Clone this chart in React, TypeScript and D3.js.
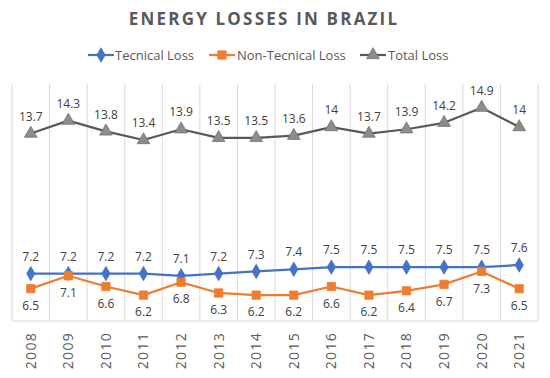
import * as d3 from 'd3';

const years = ['2008', '2009', '2010', '2011', '2012', '2013', '2014', '2015', '2016', '2017', '2018', '2019', '2020', '2021'];
const tecnicalLoss = [7.2, 7.2, 7.2, 7.2, 7.1, 7.2, 7.3, 7.4, 7.5, 7.5, 7.5, 7.5, 7.5, 7.6];
const nonTecnicalLoss = [6.5, 7.1, 6.6, 6.2, 6.8, 6.3, 6.2, 6.2, 6.6, 6.2, 6.4, 6.7, 7.3, 6.5];
const totalLoss = [13.7, 14.3, 13.8, 13.4, 13.9, 13.5, 13.5, 13.6, 14, 13.7, 13.9, 14.2, 14.9, 14];

const W = 550;
const H = 378;
const plot = { left: 12, right: 538, top: 84, bottom: 321 };
const font = '"Open Sans", "Liberation Sans", sans-serif';
const textColor = '#595959';
const labelColor = '#404040';

type Series = {
  name: string;
  values: number[];
  stroke: string;
  fill: string;
  marker: 'diamond' | 'square' | 'triangle';
  labelBelow: boolean;
};

const series: Series[] = [
  { name: 'Tecnical Loss', values: tecnicalLoss, stroke: '#4472C4', fill: '#4472C4', marker: 'diamond', labelBelow: false },
  { name: 'Non-Tecnical Loss', values: nonTecnicalLoss, stroke: '#ED7D31', fill: '#ED7D31', marker: 'square', labelBelow: true },
  { name: 'Total Loss', values: totalLoss, stroke: '#595959', fill: '#8C8C8C', marker: 'triangle', labelBelow: false },
];

const symbolType = {
  diamond: d3.symbolDiamond,
  square: d3.symbolSquare,
  triangle: d3.symbolTriangle,
};
const symbolSize = { diamond: 60, square: 70, triangle: 70 };

function Marker({ s, x, y }: { s: Series; x: number; y: number }) {
  const d = d3.symbol(symbolType[s.marker], symbolSize[s.marker])() || '';
  return (
    <path
      d={d}
      transform={`translate(${x},${y})`}
      fill={s.fill}
      stroke={s.marker === 'triangle' ? '#6E6E6E' : s.fill}
      strokeWidth={0.75}
    />
  );
}

export default function App() {
  const x = d3.scaleBand<string>().domain(years).range([plot.left, plot.right]).padding(0);
  const y = d3.scaleLinear().domain([5, 16]).range([plot.bottom, plot.top]);
  const cx = (yr: string) => (x(yr) ?? 0) + x.bandwidth() / 2;

  const line = d3
    .line<number>()
    .x((_, i) => cx(years[i]))
    .y(v => y(v));

  const legendItems = [
    { s: series[0], lx: 88, tx: 115 },
    { s: series[1], lx: 209, tx: 237 },
    { s: series[2], lx: 360, tx: 388 },
  ];

  return (
    <svg width={W} height={H} style={{ position: 'fixed', top: 0, left: 0, background: '#fff' }} fontFamily={font}>
      <rect width={W} height={H} fill="#fff" />

      {/* title */}
      <text x={264} y={25} textAnchor="middle" fill={textColor} fontSize={17} fontWeight="bold" letterSpacing={2.2}>
        ENERGY LOSSES IN BRAZIL
      </text>

      {/* legend */}
      {legendItems.map(({ s, lx, tx }) => (
        <g key={s.name}>
          <line x1={lx} x2={lx + 26} y1={55} y2={55} stroke={s.stroke} strokeWidth={2.25} />
          <Marker s={s} x={lx + 13} y={55} />
          <text x={tx} y={55} dy="0.35em" fill={textColor} fontSize={13}>
            {s.name}
          </text>
        </g>
      ))}

      {/* vertical gridlines */}
      {years.map(yr => (
        <line key={yr} x1={x(yr)} x2={x(yr)} y1={plot.top} y2={plot.bottom} stroke="#D9D9D9" strokeWidth={1} />
      ))}
      <line x1={plot.right} x2={plot.right} y1={plot.top} y2={plot.bottom} stroke="#D9D9D9" strokeWidth={1} />
      <line x1={plot.left} x2={plot.right} y1={plot.bottom} y2={plot.bottom} stroke="#D9D9D9" strokeWidth={1} />

      {/* year labels */}
      {years.map(yr => (
        <text
          key={yr}
          transform={`translate(${cx(yr)},${332}) rotate(-90)`}
          textAnchor="end"
          dy="0.35em"
          fill={textColor}
          fontSize={14}
          letterSpacing={1.3}
        >
          {yr}
        </text>
      ))}

      {/* series */}
      {series.map(s => (
        <g key={s.name}>
          <path d={line(s.values) || ''} fill="none" stroke={s.stroke} strokeWidth={2.25} strokeLinejoin="round" />
          {s.values.map((v, i) => (
            <Marker key={i} s={s} x={cx(years[i])} y={y(v)} />
          ))}
          {s.values.map((v, i) => (
            <text
              key={'l' + i}
              x={cx(years[i])}
              y={y(v) + (s.labelBelow ? 17 : -17)}
              dy="0.35em"
              textAnchor="middle"
              fill={labelColor}
              fontSize={12}
            >
              {v}
            </text>
          ))}
        </g>
      ))}
    </svg>
  );
}
